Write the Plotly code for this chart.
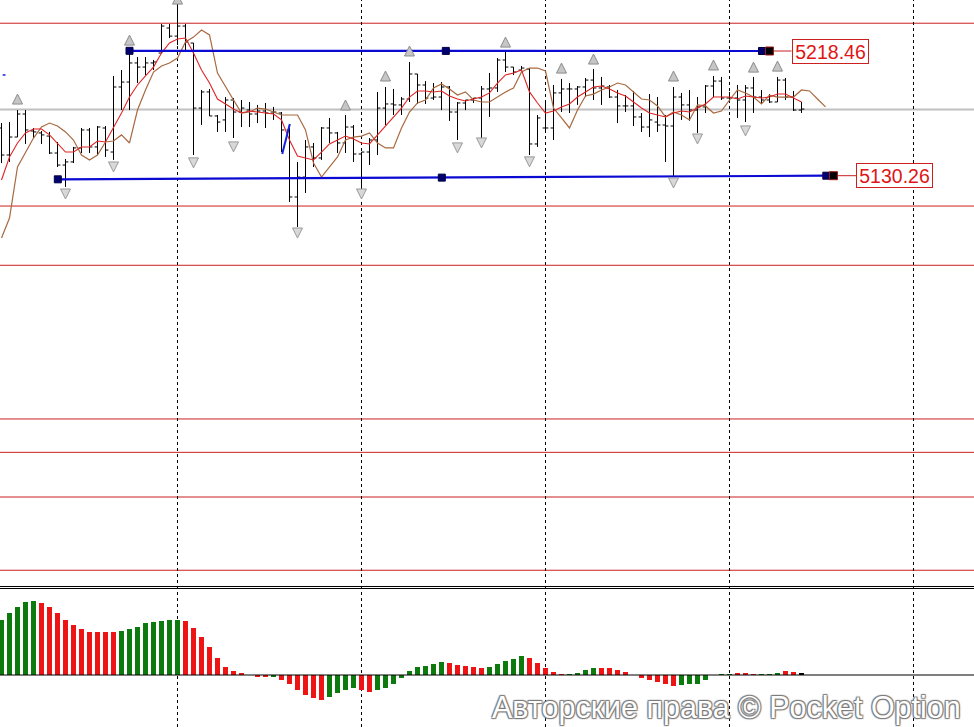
import plotly.graph_objects as go

# ---------------- price bars (bar index, OHLC) ----------------
bar_idx = list(range(101))
opens = [5164.0, 5144.9, 5157.6, 5173.9, 5161.9, 5160.5, 5158.3, 5146.3, 5137.8, 5140.0,
         5149.9, 5162.6, 5150.6, 5164.0, 5147.0, 5193.0, 5196.5, 5210.0, 5207.1, 5210.0,
         5217.0, 5234.7, 5229.0, 5236.1, 5224.1, 5178.1, 5189.5, 5172.5, 5169.7, 5183.8,
         5175.3, 5176.7, 5173.9, 5176.0, 5174.6, 5174.6, 5162.6, 5115.2, 5129.3, 5150.6,
         5142.8, 5164.0, 5160.5, 5153.4, 5164.7, 5145.6, 5147.0, 5155.5, 5178.1, 5181.0,
         5180.3, 5184.5, 5202.2, 5194.4, 5185.2, 5185.9, 5193.0, 5175.3, 5181.7, 5183.8,
         5185.2, 5191.6, 5192.3, 5212.1, 5207.1, 5205.0, 5205.7, 5152.7, 5164.0, 5164.0,
         5188.8, 5191.6, 5191.6, 5193.0, 5197.9, 5192.3, 5193.0, 5185.9, 5179.6, 5179.6,
         5171.8, 5164.7, 5168.2, 5166.1, 5165.4, 5185.9, 5180.3, 5176.7, 5178.9, 5193.7,
         5197.2, 5185.2, 5185.2, 5183.8, 5192.3, 5185.9, 5183.8, 5182.4, 5197.9, 5185.9,
         5176.7]
highs = [5167.5, 5168.2, 5176.7, 5176.7, 5164.0, 5161.9, 5161.2, 5154.1, 5142.1, 5150.6,
         5164.0, 5164.0, 5165.4, 5165.4, 5200.8, 5205.0, 5218.5, 5214.2, 5214.2, 5212.1,
         5237.6, 5237.6, 5250.3, 5237.6, 5224.1, 5190.9, 5191.6, 5173.2, 5185.9, 5185.2,
         5183.8, 5182.4, 5180.3, 5181.7, 5178.9, 5175.3, 5164.0, 5140.0, 5155.5, 5153.4,
         5164.7, 5171.1, 5161.2, 5173.2, 5166.1, 5147.0, 5156.9, 5189.5, 5193.0, 5191.6,
         5185.9, 5210.7, 5202.2, 5197.2, 5195.8, 5196.5, 5193.7, 5182.4, 5183.8, 5185.2,
         5193.7, 5202.9, 5213.5, 5217.8, 5207.1, 5207.9, 5206.4, 5173.2, 5182.4, 5194.4,
         5198.7, 5195.8, 5193.7, 5199.4, 5205.7, 5200.1, 5194.4, 5190.9, 5187.3, 5190.2,
         5174.6, 5188.0, 5185.9, 5173.2, 5193.0, 5188.8, 5190.9, 5185.9, 5194.4, 5200.8,
         5200.1, 5189.5, 5194.4, 5194.4, 5200.1, 5190.9, 5188.0, 5200.1, 5199.4, 5190.2,
         5182.4]
lows = [5139.2, 5140.0, 5157.6, 5152.7, 5156.9, 5152.7, 5145.6, 5136.4, 5122.3, 5139.2,
        5146.3, 5146.3, 5144.9, 5143.5, 5141.4, 5176.7, 5176.7, 5195.8, 5201.5, 5205.0,
        5217.0, 5227.6, 5222.7, 5217.8, 5144.9, 5166.1, 5172.5, 5161.2, 5161.2, 5156.9,
        5164.7, 5164.7, 5167.5, 5164.0, 5169.7, 5147.0, 5111.7, 5094.0, 5118.0, 5136.4,
        5141.4, 5153.4, 5146.3, 5146.3, 5140.0, 5120.2, 5137.8, 5144.9, 5166.1, 5173.2,
        5173.2, 5182.4, 5181.0, 5181.0, 5183.8, 5176.7, 5169.0, 5155.5, 5176.7, 5181.7,
        5155.5, 5171.8, 5189.5, 5203.6, 5201.5, 5204.3, 5144.9, 5150.6, 5160.5, 5155.5,
        5175.3, 5174.6, 5180.3, 5185.9, 5183.8, 5180.3, 5185.2, 5167.5, 5175.3, 5165.4,
        5161.2, 5157.6, 5161.2, 5140.0, 5130.0, 5169.7, 5169.0, 5160.5, 5174.6, 5185.9,
        5183.8, 5182.4, 5171.1, 5168.2, 5174.6, 5181.7, 5181.7, 5182.4, 5183.8, 5176.0,
        5174.6]
closes = [5144.9, 5157.6, 5173.9, 5162.6, 5161.2, 5159.1, 5146.3, 5137.8, 5140.0, 5149.9,
          5162.6, 5150.6, 5164.7, 5148.4, 5193.0, 5196.5, 5210.0, 5207.1, 5210.0, 5210.7,
          5236.1, 5229.0, 5236.1, 5224.8, 5178.1, 5189.5, 5172.5, 5168.2, 5183.8, 5175.3,
          5178.1, 5173.9, 5176.0, 5174.6, 5175.3, 5162.6, 5115.2, 5129.3, 5150.6, 5142.8,
          5164.0, 5160.5, 5153.4, 5164.7, 5145.6, 5147.0, 5155.5, 5178.1, 5181.0, 5180.3,
          5184.5, 5202.2, 5194.4, 5185.2, 5185.9, 5193.0, 5175.3, 5181.7, 5183.8, 5185.2,
          5191.6, 5192.3, 5212.1, 5207.1, 5203.6, 5206.4, 5152.7, 5171.1, 5164.0, 5188.8,
          5191.6, 5191.6, 5193.0, 5197.9, 5192.3, 5193.7, 5185.9, 5179.6, 5179.6, 5171.8,
          5164.7, 5169.7, 5166.1, 5165.4, 5185.9, 5180.3, 5176.7, 5178.9, 5193.7, 5197.2,
          5185.2, 5185.2, 5183.8, 5192.3, 5185.9, 5183.8, 5182.4, 5197.9, 5185.9, 5176.7,
          5177.4]

# ---------------- moving averages ----------------
ma_fast = [5127.2, 5143.5, 5153.4, 5160.5, 5163.3, 5163.3, 5159.1, 5152.7, 5147.0, 5147.0,
           5150.6, 5150.6, 5154.8, 5154.1, 5164.0, 5174.6, 5185.9, 5194.4, 5200.8, 5207.1,
           5217.0, 5224.1, 5226.9, 5227.6, 5217.0, 5205.0, 5195.8, 5184.5, 5181.0, 5177.4,
           5174.6, 5176.0, 5175.3, 5174.6, 5173.9, 5169.7, 5155.5, 5144.2, 5142.8, 5141.4,
           5147.0, 5152.7, 5155.5, 5158.3, 5156.2, 5153.4, 5152.7, 5159.1, 5165.4, 5171.8,
           5178.1, 5185.9, 5190.2, 5190.2, 5189.5, 5190.2, 5186.6, 5184.5, 5183.1, 5184.5,
           5185.9, 5188.8, 5195.8, 5201.5, 5202.9, 5205.0, 5189.5, 5181.7, 5174.6, 5176.0,
           5178.9, 5181.0, 5185.9, 5189.5, 5193.0, 5193.7, 5191.6, 5188.8, 5186.6, 5182.4,
           5178.1, 5174.6, 5173.2, 5171.8, 5174.6, 5176.0, 5175.3, 5178.1, 5181.0, 5185.9,
           5185.9, 5185.9, 5184.5, 5186.6, 5185.9, 5185.2, 5185.9, 5188.0, 5188.0, 5185.2,
           5182.4]
ma_slow_idx = list(range(104))
ma_slow = [5086.2, 5100.3, 5136.4, 5147.0, 5156.9, 5164.7, 5167.5, 5165.4, 5161.2, 5155.5,
           5144.9, 5141.4, 5144.9, 5154.1, 5154.8, 5159.1, 5153.4, 5176.7, 5190.9, 5203.6,
           5207.9, 5210.0, 5213.5, 5224.8, 5228.3, 5233.3, 5229.8, 5202.9, 5193.0, 5183.8,
           5174.6, 5175.3, 5178.1, 5177.4, 5175.3, 5173.2, 5173.2, 5173.2, 5162.6, 5139.2,
           5129.3, 5136.4, 5143.5, 5155.5, 5157.6, 5158.3, 5160.5, 5153.4, 5149.9, 5149.9,
           5164.0, 5175.3, 5181.7, 5183.8, 5192.3, 5195.1, 5191.6, 5187.3, 5189.5, 5183.8,
           5182.4, 5182.4, 5185.9, 5189.5, 5192.3, 5203.6, 5206.4, 5206.4, 5204.3, 5178.1,
           5171.1, 5164.0, 5176.7, 5186.6, 5188.0, 5190.9, 5193.0, 5195.8, 5194.4, 5189.5,
           5184.5, 5183.8, 5179.6, 5171.8, 5175.3, 5173.2, 5169.7, 5180.3, 5179.6, 5174.6,
           5176.0, 5183.8, 5190.9, 5188.8, 5185.9, 5181.0, 5187.3, 5185.9, 5185.9, 5185.9,
           5190.9, 5190.2, 5184.5, 5178.9]

# ---------------- fractal markers (arrow tip prices) ----------------
frac_up_idx = [2, 16, 22, 43, 48, 51, 63, 70, 74, 84, 89, 94, 97]
frac_up_tip = [5188.0, 5229.7, 5258.7, 5183.8, 5204.3, 5222.0, 5228.3, 5209.9, 5216.3,
               5204.3, 5212.1, 5210.6, 5211.3]
frac_dn_idx = [8, 14, 24, 29, 37, 45, 57, 60, 66, 84, 87, 93]
frac_dn_tip = [5113.8, 5132.9, 5135.8, 5147.1, 5086.2, 5113.8, 5146.4, 5149.9, 5136.5,
               5121.6, 5152.7, 5158.4]

# ---------------- levels & trend lines ----------------
red_levels = [5238.1, 5108.8, 5066.9, 4958.2, 4934.6, 4903.0, 4851.2]
bid_level = 5177.0
upper_line_x = [16, 55.54, 95.06]
upper_line_y = [5218.6, 5218.53, 5218.46]
lower_line_x = [7.04, 55.04, 103.1]
lower_line_y = [5127.7, 5128.9, 5130.26]
label_values = [5218.46, 5130.26]
label_anchor_x = [96, 104]
label_box_x = [98.75, 106.84]
blue_stroke_x = [35.09, 36.04]
blue_stroke_y = [5145.6, 5166.8]
blue_dash_x = [0.15, 0.5]
blue_dash_y = [5201.5, 5201.5]
session_x = [22, 45, 68, 91, 114]

# ---------------- oscillator histogram ----------------
osc_vals = [55, 62, 68, 73, 74, 72, 68, 62, 55, 50,
            46, 43, 43, 43, 43, 44, 46, 48, 52, 53,
            54, 55, 55, 54, 47, 38, 28, 17, 8, 4,
            2, 0, -2, -2, -2, -5, -9, -15, -20, -23,
            -25, -22, -18, -15, -13, -15, -17, -15, -13, -9,
            -3, 4, 8, 9, 11, 13, 12, 10, 9, 8,
            7, 8, 11, 14, 16, 19, 17, 12, 7, 3,
            1, 1, 2, 5, 7, 7, 7, 5, 3, 0,
            -3, -5, -7, -9, -11, -10, -9, -9, -5, 0,
            1, 1, 2, 2, 1, 1, 1, 2, 4, 3,
            2]
osc_dir = "gggggrrrrrrrrrrgggggggg" \
          "rrrrrrrrrrrgrrrrrrggggrrgggg" \
          "gggggrrrrrgggggrrrrrggggrrrrrrrrrrgggggggrrrgggrr"

GREEN = "#0c7a0c"
RED = "#ee1414"
osc_colors = [GREEN if c == "g" else RED for c in osc_dir]

H = 727.0
W = 974.0
price_top = 5254.53
price_bottom = price_top - 586 * 0.7073

fig = go.Figure()

fig.add_trace(go.Ohlc(
    x=bar_idx, open=opens, high=highs, low=lows, close=closes,
    increasing=dict(line=dict(color="black", width=1)),
    decreasing=dict(line=dict(color="black", width=1)),
    tickwidth=0.36, xaxis="x", yaxis="y", hoverinfo="skip", showlegend=False,
))

fig.add_trace(go.Scatter(x=ma_slow_idx, y=ma_slow, mode="lines",
                         line=dict(color="#a8693f", width=1.2), yaxis="y",
                         hoverinfo="skip", showlegend=False))
fig.add_trace(go.Scatter(x=bar_idx, y=ma_fast, mode="lines",
                         line=dict(color="#e02525", width=1.1), yaxis="y",
                         hoverinfo="skip", showlegend=False))

fig.add_trace(go.Scatter(x=[upper_line_x[0], upper_line_x[-1]], y=[upper_line_y[0], upper_line_y[-1]],
                         mode="lines", line=dict(color="#0a0ad2", width=2.2), yaxis="y",
                         hoverinfo="skip", showlegend=False))
fig.add_trace(go.Scatter(x=[lower_line_x[0], lower_line_x[-1]], y=[lower_line_y[0], lower_line_y[-1]],
                         mode="lines", line=dict(color="#0a0ad2", width=2.2), yaxis="y",
                         hoverinfo="skip", showlegend=False))
fig.add_trace(go.Scatter(x=blue_stroke_x, y=blue_stroke_y, mode="lines",
                         line=dict(color="#1020e0", width=2), yaxis="y",
                         hoverinfo="skip", showlegend=False))
fig.add_trace(go.Scatter(x=blue_dash_x, y=blue_dash_y, mode="lines",
                         line=dict(color="#1020e0", width=1.5), yaxis="y",
                         hoverinfo="skip", showlegend=False))

for ax, bx, v in zip(label_anchor_x, label_box_x, label_values):
    fig.add_trace(go.Scatter(x=[ax, bx], y=[v, v], mode="lines",
                             line=dict(color="#cc1f1f", width=1), yaxis="y",
                             hoverinfo="skip", showlegend=False))

fig.add_trace(go.Scatter(x=upper_line_x + lower_line_x, y=upper_line_y + lower_line_y,
                         mode="markers", marker=dict(symbol="square", size=7, color="#000070",
                                                     line=dict(color="#000040", width=1)),
                         yaxis="y", hoverinfo="skip", showlegend=False))
fig.add_trace(go.Scatter(x=label_anchor_x, y=label_values, mode="markers",
                         marker=dict(symbol="square", size=8, color="black",
                                     line=dict(color="#a01818", width=1)),
                         yaxis="y", hoverinfo="skip", showlegend=False))

fig.add_trace(go.Scatter(x=frac_up_idx, y=frac_up_tip, mode="markers",
                         marker=dict(symbol="arrow-up", size=10, color="#c6c6c6",
                                     line=dict(color="#8c8c8c", width=1)),
                         yaxis="y", hoverinfo="skip", showlegend=False))
fig.add_trace(go.Scatter(x=frac_dn_idx, y=frac_dn_tip, mode="markers",
                         marker=dict(symbol="arrow-down", size=10, color="#d8d8d8",
                                     line=dict(color="#9a9a9a", width=1)),
                         yaxis="y", hoverinfo="skip", showlegend=False))

fig.add_trace(go.Bar(x=bar_idx, y=osc_vals, marker=dict(color=osc_colors, line=dict(width=0)),
                     width=0.56, yaxis="y2", hoverinfo="skip", showlegend=False))

shapes = []
for lv in red_levels:
    shapes.append(dict(type="line", xref="paper", x0=0, x1=1, yref="y", y0=lv, y1=lv,
                       line=dict(color="#cc1f1f", width=1), layer="below"))
shapes.append(dict(type="line", xref="paper", x0=0, x1=1, yref="y", y0=bid_level, y1=bid_level,
                   line=dict(color="#c0c0c0", width=2), layer="below"))
for sx in session_x:
    shapes.append(dict(type="line", xref="x", x0=sx, x1=sx, yref="paper", y0=0, y1=1,
                       line=dict(color="black", width=1, dash="3px,3px"), layer="below"))
for py in (586.5, 588.5):
    shapes.append(dict(type="line", xref="paper", x0=0, x1=1, yref="paper",
                       y0=(H - py) / H, y1=(H - py) / H, line=dict(color="black", width=1)))
shapes.append(dict(type="line", xref="paper", x0=0, x1=1, yref="y2", y0=0, y1=0,
                   line=dict(color="black", width=1.2)))

annotations = []
for bx, v in zip(label_box_x, label_values):
    annotations.append(dict(x=bx, y=v, xref="x", yref="y", xanchor="left", yanchor="middle",
                            text=f"{v:.2f}", showarrow=False, width=75, height=23,
                            align="center", valign="middle",
                            bgcolor="white", bordercolor="#cc1f1f", borderwidth=1, borderpad=0,
                            font=dict(family="Liberation Sans, Arial", size=19.5, color="#e01515")))
annotations.append(dict(x=963 / W, y=(H - 707.5) / H, xref="paper", yref="paper",
                        xanchor="right", yanchor="middle", showarrow=False,
                        text="Авторские права © Pocket Option",
                        font=dict(family="Liberation Sans, Arial", size=30.5, color="white",
                                  shadow="1px 1px 1px #7a7a7a, -1px -1px 1px #7a7a7a, "
                                         "1px -1px 1px #7a7a7a, -1px 1px 1px #7a7a7a")))

fig.update_layout(
    width=974, height=727,
    margin=dict(l=0, r=0, t=0, b=0),
    paper_bgcolor="white", plot_bgcolor="white",
    showlegend=False,
    bargap=0,
    hovermode=False,
    xaxis=dict(range=[-0.1875, 121.5625], visible=False, showgrid=False, zeroline=False,
               rangeslider=dict(visible=False), anchor="y2", fixedrange=True),
    yaxis=dict(domain=[141 / H, 1], range=[price_bottom, price_top], visible=False,
               showgrid=False, zeroline=False, fixedrange=True),
    yaxis2=dict(domain=[0, 138 / H], range=[-52, 86], visible=False,
                showgrid=False, zeroline=False, fixedrange=True),
    shapes=shapes,
    annotations=annotations,
)

fig.write_html("out.html", config={"displayModeBar": False},
               post_script="document.body.style.margin='0';document.body.style.padding='0';")
